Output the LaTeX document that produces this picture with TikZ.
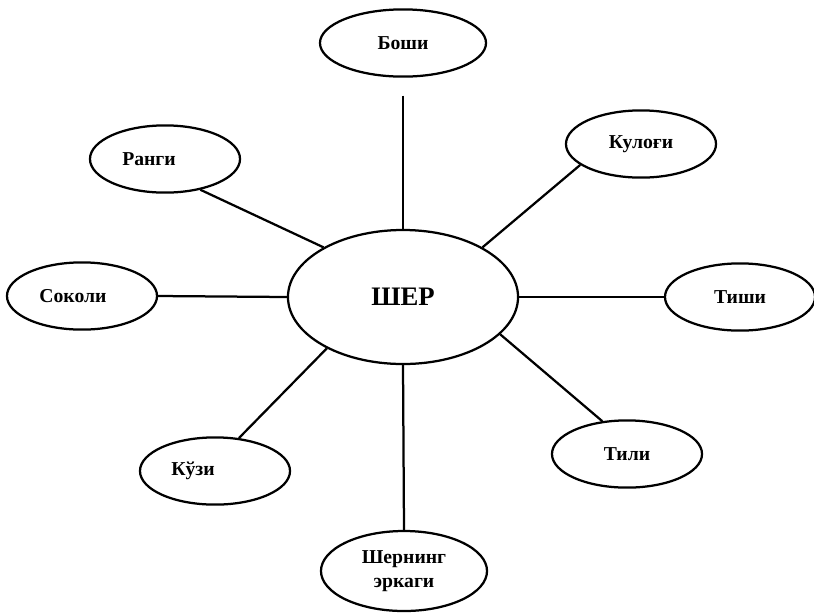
\documentclass[tikz,border=0pt]{standalone}
\usepackage{fontspec}
\setmainfont{Liberation Serif}
\usetikzlibrary{shapes.geometric}
\begin{document}
\begin{tikzpicture}[x=0.025cm,y=-0.025cm,line width=1.6pt,
	part/.style={ellipse,draw,inner sep=0pt,minimum width=3.75cm,minimum height=1.68cm,
		font=\bfseries\fontsize{14}{17}\selectfont,align=center},
	lion/.style={part,minimum width=5.75cm,minimum height=3.35cm,font=\bfseries\fontsize{19}{22}\selectfont}]
	\useasboundingbox (0,0) rectangle (814,614);
	\node [lion] (sher)   at (403,297) {ШЕР};
	\node [part,minimum width=4.15cm] (boshi)  at (403,43)  {Боши};
	\node [part] (qulogi) at (641,144) {Кулоғи};
	\node [part] (rangi)  at (165,159) {Ранги\hspace{0.8cm}};
	\node [part] (sokoli) at (82,296)  {Соколи\hspace{0.45cm}};
	\node [part] (tishi)  at (740,297) {Тиши};
	\node [part] (tili)   at (627,454) {Тили};
	\node [part] (kozi)   at (215,471) {Кўзи\hspace{1.1cm}};
	\node [part,minimum width=4.15cm,minimum height=2cm] (erkak) at (404,571) {Шернинг\\эркаги};
	\draw [shorten <=0.45cm] (boshi.-90) -- (sher.90);
	\foreach \a/\b/\c/\d in {qulogi/199/sher/32, rangi/-41/sher/148, sokoli/0/sher/180,
		tishi/180/sher/0, tili/127/sher/-21, kozi/54/sher/214, erkak/90/sher/-90}{%
			\draw (\a.\b) -- (\c.\d);
			}
\end{tikzpicture}
\end{document}
